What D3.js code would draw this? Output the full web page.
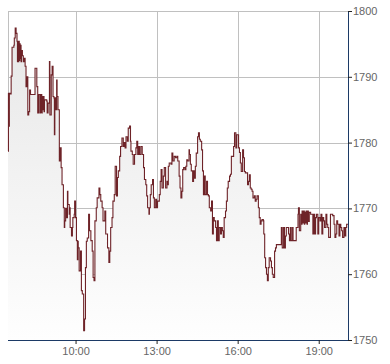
<!DOCTYPE html>
<html>
<head>
<meta charset="utf-8">
<script src="https://cdn.jsdelivr.net/npm/d3@7"></script>
<style>
  html, body { margin: 0; padding: 0; background: #fff; }
  svg { display: block; }
</style>
</head>
<body>
<div id="chart"></div>
<script>
// intraday quotes (time, price)
const times = [
  '7:30', '7:31', '7:32', '7:33', '7:35', '7:37', '7:39', '7:43', '7:44', '7:46', '7:48', '7:50', '7:51', '7:52', '7:53', '7:54', '7:55', '7:56', '7:57', '7:58', '7:59',
  '8:00', '8:02', '8:04', '8:06', '8:08', '8:10', '8:12', '8:14', '8:16', '8:18', '8:20', '8:28', '8:30', '8:33', '8:34', '8:36', '8:38', '8:41', '8:42', '8:43', '8:44', '8:45', '8:46', '8:47', '8:48', '8:50', '8:51', '8:56', '8:57', '8:59',
  '9:01', '9:02', '9:03', '9:06', '9:08', '9:10', '9:12', '9:13', '9:14', '9:16', '9:18', '9:19', '9:21', '9:24', '9:26', '9:28', '9:30', '9:33', '9:35', '9:36', '9:38', '9:40', '9:42', '9:43', '9:46', '9:47', '9:48', '9:51', '9:53', '9:54', '9:57', '9:58',
  '10:00', '10:02', '10:04', '10:05', '10:06', '10:08', '10:11', '10:13', '10:15', '10:18', '10:20', '10:22', '10:24', '10:26', '10:29', '10:31', '10:34', '10:37', '10:39', '10:41', '10:43', '10:46', '10:48', '10:52', '10:54', '10:56', '10:59',
  '11:01', '11:05', '11:07', '11:11', '11:14', '11:16', '11:18', '11:21', '11:23', '11:26', '11:28', '11:31', '11:33', '11:35', '11:38', '11:40', '11:43', '11:46', '11:48', '11:50', '11:52', '11:55', '11:57',
  '12:00', '12:02', '12:03', '12:06', '12:08', '12:11', '12:14', '12:16', '12:18', '12:20', '12:22', '12:25', '12:28', '12:31', '12:33', '12:36', '12:38', '12:40', '12:43', '12:44', '12:46', '12:48', '12:51', '12:53', '12:55', '12:58',
  '13:00', '13:02', '13:06', '13:08', '13:10', '13:12', '13:15', '13:17', '13:20', '13:23', '13:25', '13:26', '13:28', '13:32', '13:34', '13:36', '13:39', '13:42', '13:45', '13:47', '13:50', '13:52', '13:54', '13:56', '13:58',
  '14:00', '14:03', '14:05', '14:07', '14:09', '14:12', '14:13', '14:15', '14:17', '14:20', '14:22', '14:24', '14:26', '14:28', '14:31', '14:33', '14:35', '14:37', '14:40', '14:42', '14:44', '14:46', '14:48', '14:51', '14:53', '14:55', '14:57',
  '15:00', '15:02', '15:04', '15:06', '15:08', '15:11', '15:13', '15:15', '15:17', '15:19', '15:22', '15:24', '15:26', '15:28', '15:30', '15:33', '15:35', '15:37', '15:39', '15:42', '15:44', '15:46', '15:48', '15:51', '15:53', '15:55', '15:56', '15:58',
  '16:00', '16:02', '16:04', '16:06', '16:08', '16:11', '16:13', '16:15', '16:17', '16:22', '16:24', '16:26', '16:28', '16:30', '16:32', '16:34', '16:37', '16:39', '16:41', '16:43', '16:46', '16:48', '16:50', '16:52', '16:54', '16:57', '16:58',
  '17:00', '17:02', '17:04', '17:06', '17:08', '17:10', '17:13', '17:15', '17:17', '17:19', '17:22', '17:24', '17:26', '17:35', '17:37', '17:39', '17:42', '17:44', '17:46', '17:48', '17:53', '17:55', '17:57', '17:59',
  '18:02', '18:03', '18:06', '18:10', '18:14', '18:15', '18:17', '18:20', '18:22', '18:23', '18:25', '18:26', '18:28', '18:29', '18:31', '18:32', '18:34', '18:35', '18:37', '18:39', '18:42', '18:45', '18:47', '18:49', '18:51', '18:53', '18:55', '18:58',
  '19:00', '19:03', '19:05', '19:07', '19:09', '19:11', '19:13', '19:16', '19:18', '19:20', '19:22', '19:26', '19:31', '19:34', '19:36', '19:38', '19:40', '19:42', '19:45', '19:47', '19:49', '19:51', '19:53', '19:56', '19:58',
  '20:00', '20:02', '20:05'
];

const prices = [
  1778.7, 1787.5, 1782.5, 1787.5, 1787.4, 1790.1, 1794.5, 1794.8, 1795.9, 1797.4, 1796.6, 1795.4, 1792.3, 1795.4, 1792.3, 1795.4, 1792.5, 1795.0, 1792.8, 1794.8, 1792.3,
  1794.0, 1793.2, 1792.3, 1792.8, 1791.6, 1788.5, 1790.0, 1784.2, 1784.7, 1788.0, 1787.3, 1787.3, 1791.3, 1791.3, 1788.5, 1784.5, 1787.3, 1784.5, 1787.3, 1784.6, 1787.3, 1784.5, 1787.0, 1785.0, 1787.0, 1784.7, 1786.5, 1786.3, 1784.5, 1786.0,
  1786.0, 1792.3, 1784.2, 1790.3, 1791.6, 1787.0, 1786.8, 1781.2, 1786.8, 1785.0, 1789.5, 1787.0, 1785.0, 1777.2, 1779.2, 1776.2, 1773.6, 1770.1, 1767.1, 1768.1, 1770.0, 1768.6, 1772.6, 1770.6, 1769.1, 1770.1, 1767.1, 1765.8, 1767.1, 1768.6, 1769.1, 1771.1,
  1768.6, 1765.1, 1762.2, 1765.0, 1764.0, 1760.5, 1763.5, 1757.5, 1757.0, 1751.4, 1753.2, 1761.0, 1765.0, 1765.5, 1769.1, 1766.6, 1765.1, 1763.5, 1759.5, 1759.0, 1768.1, 1770.1, 1771.6, 1773.1, 1772.1, 1771.1, 1770.1,
  1768.1, 1769.6, 1766.1, 1764.0, 1761.8, 1763.5, 1767.1, 1768.6, 1771.1, 1772.1, 1776.4, 1771.9, 1774.7, 1775.7, 1777.9, 1779.4, 1780.7, 1779.4, 1780.0, 1779.2, 1780.9, 1780.2, 1782.2,
  1782.5, 1780.2, 1778.7, 1778.2, 1776.7, 1778.2, 1779.2, 1780.2, 1778.2, 1779.4, 1778.2, 1779.4, 1778.2, 1776.2, 1774.4, 1773.6, 1771.9, 1770.1, 1769.1, 1770.1, 1772.1, 1773.6, 1774.4, 1771.6, 1770.1, 1771.4,
  1770.1, 1771.1, 1772.1, 1774.1, 1775.9, 1773.1, 1774.9, 1776.2, 1773.1, 1774.1, 1773.6, 1776.4, 1776.9, 1776.7, 1778.4, 1777.2, 1777.9, 1777.7, 1777.9, 1777.2, 1774.9, 1773.1, 1771.6, 1772.6, 1775.9,
  1776.2, 1775.9, 1776.4, 1777.4, 1777.2, 1778.9, 1778.2, 1776.7, 1775.7, 1774.1, 1775.7, 1774.6, 1776.4, 1778.4, 1780.9, 1781.5, 1780.5, 1780.2, 1778.9, 1775.7, 1772.1, 1774.9, 1772.1, 1774.1, 1772.1, 1771.9, 1770.1,
  1769.6, 1771.1, 1766.1, 1768.6, 1768.1, 1767.1, 1765.1, 1768.1, 1765.1, 1767.1, 1766.1, 1767.1, 1766.6, 1765.6, 1768.6, 1769.6, 1771.1, 1773.1, 1774.1, 1774.9, 1775.2, 1777.9, 1777.9, 1779.4, 1781.5, 1781.5, 1779.2, 1781.2,
  1781.2, 1779.2, 1778.5, 1776.9, 1775.6, 1778.9, 1777.7, 1775.6, 1775.4, 1773.6, 1774.1, 1775.1, 1773.1, 1772.9, 1772.6, 1771.6, 1771.9, 1771.1, 1771.4, 1771.9, 1770.1, 1768.6, 1767.6, 1768.1, 1768.3, 1768.1, 1766.1,
  1762.5, 1761.0, 1760.0, 1759.0, 1761.0, 1762.5, 1762.0, 1761.0, 1760.0, 1759.5, 1763.5, 1764.0, 1764.5, 1764.5, 1767.1, 1764.0, 1767.1, 1764.0, 1765.8, 1767.1, 1766.1, 1765.1, 1767.1, 1765.1,
  1767.1, 1765.1, 1765.1, 1767.1, 1769.1, 1770.1, 1766.6, 1769.1, 1767.6, 1769.6, 1767.8, 1769.6, 1767.6, 1769.4, 1767.8, 1769.6, 1767.6, 1769.6, 1768.0, 1769.4, 1769.1, 1769.1, 1766.1, 1769.1, 1766.1, 1768.6, 1769.1, 1766.1,
  1768.6, 1768.1, 1769.1, 1766.1, 1768.6, 1768.1, 1767.1, 1769.1, 1767.6, 1767.1, 1765.6, 1769.1, 1768.9, 1767.6, 1765.6, 1766.1, 1768.1, 1767.6, 1765.8, 1767.6, 1767.1, 1766.6, 1765.6, 1767.1, 1765.8,
  1767.1, 1767.6, 1767.6
];

const timeDomain = ['7:30', '20:05'];
const xTicks = ['10:00', '13:00', '16:00', '19:00'];
const yTicks = [1750, 1760, 1770, 1780, 1790, 1800];

const width = 390, height = 364;
const margin = { top: 11, right: 42, bottom: 24, left: 8 };
const innerW = width - margin.left - margin.right;
const innerH = height - margin.top - margin.bottom;

const parseTime = d3.timeParse('%H:%M');
const datapoints = times.map((t, i) => ({ date: parseTime(t), price: prices[i] }));

const x = d3.scaleTime()
  .domain(timeDomain.map(parseTime))
  .range([0, innerW]);
const y = d3.scaleLinear()
  .domain([1750, 1800])
  .range([innerH, 0]);

const svg = d3.select('#chart')
  .append('svg')
  .attr('width', width)
  .attr('height', height)
  .style('font-family', '"Liberation Sans", Arial, sans-serif');

const defs = svg.append('defs');
const grad = defs.append('linearGradient')
  .attr('id', 'fillGrad')
  .attr('gradientUnits', 'userSpaceOnUse')
  .attr('x1', 0).attr('y1', 0)
  .attr('x2', 0).attr('y2', innerH);
grad.append('stop').attr('offset', '0%').attr('stop-color', '#e6e6e6');
grad.append('stop').attr('offset', '100%').attr('stop-color', '#fefefe');

const g = svg.append('g')
  .attr('transform', `translate(${margin.left},${margin.top})`);

// grid
g.append('g')
  .selectAll('line.hgrid')
  .data(yTicks)
  .join('line')
  .attr('x1', 0)
  .attr('x2', innerW)
  .attr('y1', (d) => Math.round(y(d)) + 0.5)
  .attr('y2', (d) => Math.round(y(d)) + 0.5)
  .attr('stroke', '#c0c0c0');

g.append('g')
  .selectAll('line.vgrid')
  .data(xTicks.map(parseTime))
  .join('line')
  .attr('x1', (d) => Math.round(x(d)) + 0.5)
  .attr('x2', (d) => Math.round(x(d)) + 0.5)
  .attr('y1', 0)
  .attr('y2', innerH)
  .attr('stroke', '#c0c0c0');

// left border
g.append('line')
  .attr('x1', 0.5).attr('x2', 0.5)
  .attr('y1', 0).attr('y2', innerH)
  .attr('stroke', '#c0c0c0');

const area = d3.area()
  .curve(d3.curveStepAfter)
  .x((d) => x(d.date))
  .y0(innerH)
  .y1((d) => y(d.price));

const line = d3.line()
  .curve(d3.curveStepAfter)
  .x((d) => x(d.date))
  .y((d) => y(d.price));

g.append('path')
  .datum(datapoints)
  .attr('fill', 'url(#fillGrad)')
  .attr('d', area);

g.append('path')
  .datum(datapoints)
  .attr('fill', 'none')
  .attr('stroke', '#6e2328')
  .attr('stroke-width', 1.1)
  .attr('d', line);

// axes
const xAxis = d3.axisBottom(x)
  .tickValues(xTicks.map(parseTime))
  .tickFormat(d3.timeFormat('%H:%M'))
  .tickSize(4)
  .tickPadding(3);

const xg = g.append('g')
  .attr('transform', `translate(0,${innerH})`)
  .call(xAxis);
xg.select('.domain').attr('stroke', '#1c3a66').attr('d', `M0,0.5H${innerW}`);
xg.selectAll('.tick line').attr('stroke', '#222');
xg.selectAll('.tick text')
  .attr('fill', '#666')
  .style('font-size', '11px');

const yAxis = d3.axisRight(y)
  .tickValues(yTicks)
  .tickFormat(d3.format('d'))
  .tickSize(4)
  .tickPadding(1);

const yg = g.append('g')
  .attr('transform', `translate(${innerW},0)`)
  .call(yAxis);
yg.select('.domain').attr('stroke', '#1c3a66').attr('d', `M0.5,0V${innerH + 0.5}`);
yg.selectAll('.tick line').attr('stroke', '#222');
yg.selectAll('.tick text')
  .attr('fill', '#666')
  .style('font-size', '11px');
</script>
</body>
</html>
